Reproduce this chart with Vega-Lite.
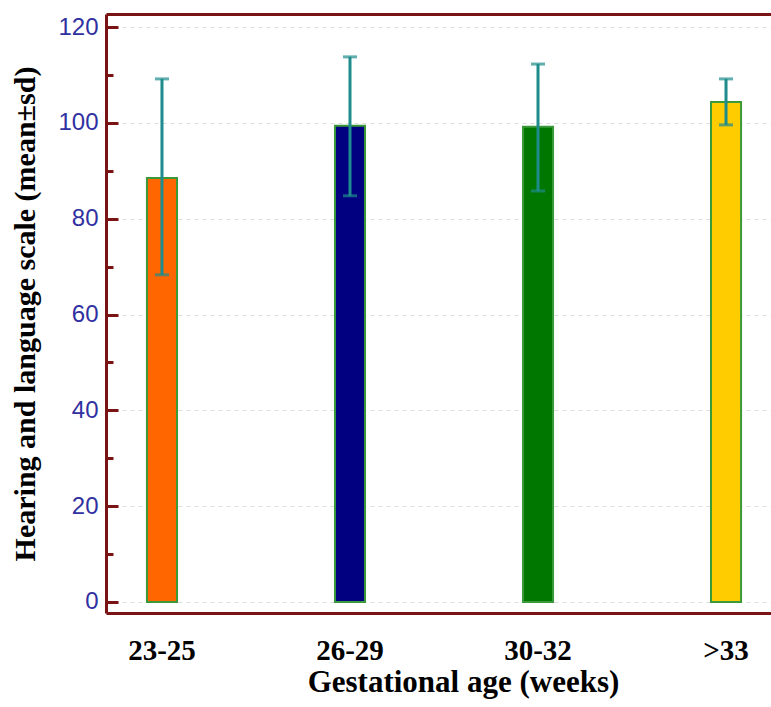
{
  "$schema": "https://vega.github.io/schema/vega-lite/v6.json",
  "width": 665,
  "height": 599,
  "autosize": {"type": "none"},
  "padding": {"left": 106, "top": 14, "right": 0, "bottom": 94},
  "background": "white",
  "config": {"view": {"stroke": null}},
  "data": {
    "values": [
      {"group": "23-25", "mean": 88.5, "lower": 68.3, "upper": 109.2},
      {"group": "26-29", "mean": 99.4, "lower": 84.8, "upper": 113.8},
      {"group": "30-32", "mean": 99.2, "lower": 85.8, "upper": 112.3},
      {"group": ">33", "mean": 104.4, "lower": 99.6, "upper": 109.2}
    ]
  },
  "resolve": {"axis": {"x": "independent", "y": "independent"}},
  "layer": [
    {
      "mark": {"type": "bar", "stroke": "#3a9a3a", "strokeWidth": 2},
      "encoding": {
        "x": {
          "field": "group", "type": "nominal", "sort": null,
          "scale": {"paddingInner": 0.84, "paddingOuter": 0.1885, "align": 0.5776},
          "axis": {
            "orient": "bottom", "labelAngle": 0, "ticks": false,
            "domainColor": "#7a1414", "domainWidth": 3,
            "labelFont": "Liberation Serif", "labelFontWeight": "bold", "labelFontSize": 29,
            "labelColor": "black", "labelPadding": 23,
            "title": "Gestational age (weeks)", "titleFont": "Liberation Serif",
            "titleFontWeight": "bold", "titleFontSize": 31, "titleColor": "black",
            "titlePadding": 2, "titleX": 357, "grid": false
          }
        },
        "y": {
          "field": "mean", "type": "quantitative",
          "scale": {"domain": [-2.3, 122.75], "nice": false, "zero": false},
          "axis": {
            "values": [0, 10, 20, 30, 40, 50, 60, 70, 80, 90, 100, 110, 120],
            "labelExpr": "datum.value % 20 === 0 ? datum.label : ''",
            "domainColor": "#7a1414", "domainWidth": 3,
            "tickColor": "#7a1414", "tickWidth": 3,
            "tickSize": {"condition": {"test": "datum.value % 20 === 0", "value": -12}, "value": -7},
            "labelFont": "Liberation Sans", "labelFontSize": 24, "labelColor": "#3030a0",
            "labelPadding": 20,
            "grid": true, "gridColor": "#dddddd", "gridDash": [4, 4], "gridWidth": 1,
            "gridOpacity": {"condition": {"test": "datum.value % 20 === 0", "value": 1}, "value": 0},
            "title": "Hearing and language scale (mean±sd)",
            "titleFont": "Liberation Serif", "titleFontWeight": "bold", "titleFontSize": 30,
            "titleColor": "black", "titlePadding": 17
          }
        },
        "color": {
          "field": "group", "type": "nominal", "legend": null,
          "scale": {"domain": ["23-25", "26-29", "30-32", ">33"], "range": ["#ff6600", "#000080", "#007800", "#ffcc00"]}
        }
      }
    },
    {
      "mark": {"type": "rule", "color": "#1e8c8c", "strokeWidth": 3},
      "encoding": {
        "x": {"field": "group", "type": "nominal", "sort": null,
          "axis": {"orient": "top", "labels": false, "ticks": false, "title": null, "domainColor": "#7a1414", "domainWidth": 3, "grid": false}},
        "y": {"field": "lower", "type": "quantitative", "axis": null},
        "y2": {"field": "upper"}
      }
    },
    {
      "mark": {"type": "tick", "color": "#1e8c8c", "thickness": 3, "size": 14},
      "encoding": {
        "x": {"field": "group", "type": "nominal", "sort": null, "axis": null},
        "y": {"field": "lower", "type": "quantitative", "axis": null}
      }
    },
    {
      "mark": {"type": "tick", "color": "#1e8c8c", "thickness": 3, "size": 14},
      "encoding": {
        "x": {"field": "group", "type": "nominal", "sort": null, "axis": null},
        "y": {"field": "upper", "type": "quantitative", "axis": null}
      }
    }
  ]
}
